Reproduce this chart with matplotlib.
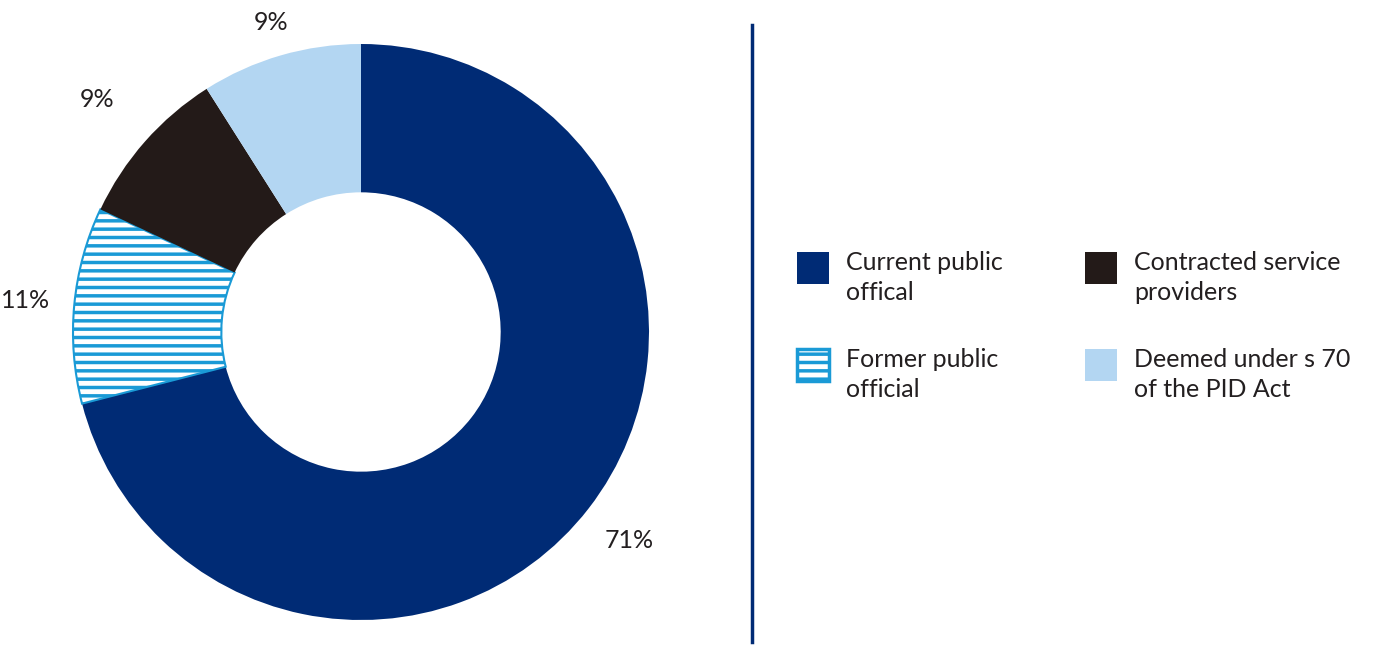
import numpy as np
import matplotlib.pyplot as plt
from matplotlib.patches import Rectangle

plt.rcParams['font.family'] = ['Lato', 'DejaVu Sans']
plt.rcParams['hatch.linewidth'] = 2.5

categories = ['Current public\noffical', 'Former public\nofficial',
              'Contracted service\nproviders', 'Deemed under s 70\nof the PID Act']
values = [71, 11, 9, 9]
labels = ['71%', '11%', '9%', '9%']
colors = ['#002b75', 'white', '#231a18', '#b3d6f2']
hatch_color = '#1a9ad6'

fig = plt.figure(figsize=(13.81, 6.5), dpi=100)
ax = fig.add_axes([(361 - 288) / 1381, 30 / 650, 576 / 1381, 576 / 650])
wedges, _ = ax.pie(values, colors=colors, startangle=90, counterclock=False,
                   radius=1.0, wedgeprops=dict(width=0.515, linewidth=0))
wedges[1].set_hatch('--')
wedges[1].set_edgecolor(hatch_color)
wedges[1].set_linewidth(1.5)
ax.set_xlim(-1, 1)
ax.set_ylim(-1, 1)
ax.set_aspect('equal')

# percentage labels outside the ring
dists = [1.18, 1.17, 1.22, 1.12]
start = 90.0
for w, v, lab, d in zip(wedges, values, labels, dists):
    mid = np.deg2rad(start - v * 3.6 / 2)
    start -= v * 3.6
    ax.text(d * np.cos(mid), d * np.sin(mid), lab, ha='center', va='center',
            fontsize=18, color='#231f20', clip_on=False)

# divider
fig.add_artist(plt.Line2D([752 / 1381, 752 / 1381], [8 / 650, 625 / 650],
                          color='#002b75', linewidth=2.5))

# legend
pos = [(797, 268), (797, 365), (1085, 268), (1085, 365)]
for (x, y), cat, c in zip(pos, categories, colors):
    s = 32
    r = Rectangle((x / 1381, (650 - y - s / 2) / 650), s / 1381, s / 650,
                  transform=fig.transFigure, facecolor=c, linewidth=0)
    if c == 'white':
        r.set_hatch('--')
        r.set_edgecolor(hatch_color)
        r.set_linewidth(2.5)
    fig.add_artist(r)
    fig.text((x + 49) / 1381, (650 - y + 17) / 650, cat, ha='left', va='top',
             fontsize=18, color='#231f20', linespacing=1.35)

fig.savefig('out.png', dpi=100)
